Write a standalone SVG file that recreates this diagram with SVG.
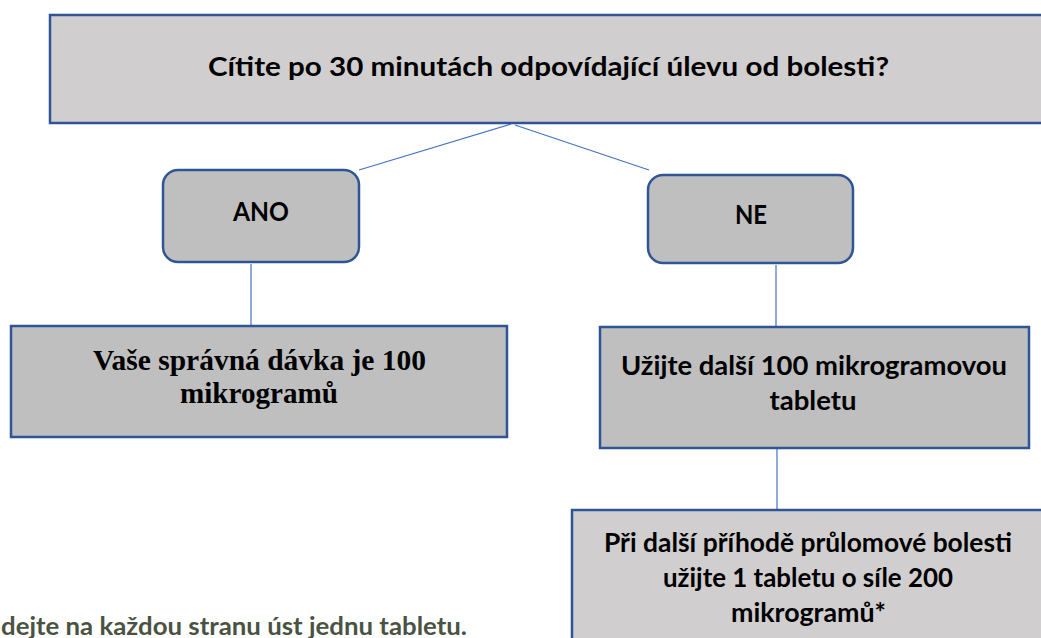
<svg xmlns="http://www.w3.org/2000/svg" width="1041" height="638" viewBox="0 0 1041 638">
<style>
.box{stroke:#2f5597;stroke-width:2.5}
.light{fill:#d0cece}
.dark{fill:#bfbfbf}
.conn{stroke:#4472c4;stroke-width:1.2;fill:none}
.sans{font-family:"Lato","Liberation Sans",sans-serif;font-weight:bold;font-size:26px;fill:#000}
.serif{font-family:"Liberation Serif",serif;font-weight:bold;font-size:29px;fill:#000}
.note{font-family:"Lato","Liberation Sans",sans-serif;font-weight:bold;font-size:25px;fill:#4a5342}
</style>
<rect width="1041" height="638" fill="#fff"/>
<g id="connectors">
<line class="conn" x1="511" y1="124" x2="359" y2="170"/>
<line class="conn" x1="515" y1="125" x2="649" y2="170"/>
<line class="conn" x1="251" y1="264" x2="251" y2="326"/>
<line class="conn" x1="776" y1="265" x2="776" y2="327"/>
<line class="conn" x1="777" y1="448" x2="777" y2="511"/>
</g>
<g id="question">
<rect class="box light" x="50" y="15" width="1010" height="108"/>
<text class="sans" x="548.5" y="76" text-anchor="middle" textLength="681" lengthAdjust="spacingAndGlyphs">Cítite po 30 minutách odpovídající úlevu od bolesti?</text>
</g>
<g id="ano">
<rect class="box dark" x="163" y="170" width="196" height="92" rx="15"/>
<text class="sans" x="261" y="221" text-anchor="middle" textLength="56" lengthAdjust="spacingAndGlyphs">ANO</text>
</g>
<g id="ne">
<rect class="box dark" x="648" y="175" width="205" height="88" rx="15"/>
<text class="sans" x="751" y="224" text-anchor="middle" textLength="32" lengthAdjust="spacingAndGlyphs">NE</text>
</g>
<g id="davka">
<rect class="box dark" x="11" y="326" width="496" height="111"/>
<text class="serif" x="259.5" y="370" text-anchor="middle" textLength="333" lengthAdjust="spacingAndGlyphs">Vaše správná dávka je 100</text>
<text class="serif" x="259" y="403" text-anchor="middle" textLength="158" lengthAdjust="spacingAndGlyphs">mikrogramů</text>
</g>
<g id="uzijte">
<rect class="box dark" x="600" y="327" width="429" height="121"/>
<text class="sans" x="814" y="375" text-anchor="middle" textLength="386" lengthAdjust="spacingAndGlyphs">Užijte další 100 mikrogramovou</text>
<text class="sans" x="813" y="410" text-anchor="middle" textLength="87" lengthAdjust="spacingAndGlyphs">tabletu</text>
</g>
<g id="pri">
<rect class="box light" x="572" y="510" width="490" height="140"/>
<text class="sans" x="808" y="552" text-anchor="middle" textLength="408" lengthAdjust="spacingAndGlyphs">Při další příhodě průlomové bolesti</text>
<text class="sans" x="808" y="587" text-anchor="middle" textLength="290" lengthAdjust="spacingAndGlyphs">užijte 1 tabletu o síle 200</text>
<text class="sans" x="808.5" y="622" text-anchor="middle" textLength="155" lengthAdjust="spacingAndGlyphs">mikrogramů*</text>
</g>
<g id="note">
<text class="note" x="1" y="635" textLength="466" lengthAdjust="spacingAndGlyphs">dejte na každou stranu úst jednu tabletu.</text>
</g>
</svg>
